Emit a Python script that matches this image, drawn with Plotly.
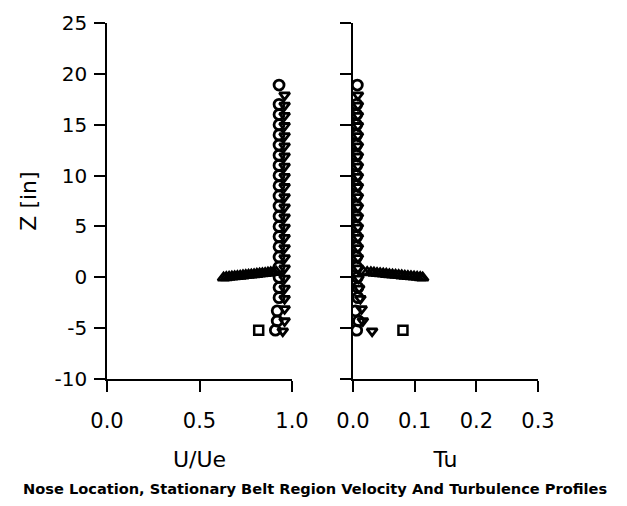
import plotly.graph_objects as go

# ---------------- data ----------------
# open circles (column)
z_circle = [18.9, 17.0, 16.0, 15.0, 14.0, 13.0, 12.0, 11.0, 10.0, 9.0, 8.0, 7.0, 6.0,
            5.0, 4.0, 3.0, 2.0, 1.0, 0.0, -1.0, -2.0, -3.3, -4.3, -5.2]
u_circle = [0.93, 0.93, 0.93, 0.93, 0.93, 0.93, 0.93, 0.93, 0.93, 0.93, 0.93, 0.93, 0.93,
            0.93, 0.93, 0.93, 0.93, 0.93, 0.93, 0.93, 0.93, 0.92, 0.92, 0.91]
tu_circle = [0.007, 0.006, 0.006, 0.006, 0.006, 0.006, 0.006, 0.006, 0.006, 0.006, 0.006, 0.006, 0.006,
             0.006, 0.006, 0.006, 0.006, 0.006, 0.007, 0.008, 0.008, 0.004, 0.009, 0.006]

# open triangles-down (column)
z_tri = [17.9, 16.9, 15.9, 14.9, 13.9, 12.9, 11.9, 10.9, 9.9, 8.9, 7.9, 6.9, 5.9,
         4.9, 3.9, 2.9, 1.9, 0.9, -0.1, -1.1, -2.1, -3.1, -4.3, -5.3]
u_tri = [0.96, 0.96, 0.96, 0.96, 0.96, 0.96, 0.96, 0.96, 0.96, 0.96, 0.96, 0.96, 0.96,
         0.96, 0.96, 0.96, 0.96, 0.96, 0.96, 0.96, 0.96, 0.96, 0.96, 0.95]
tu_tri = [0.008, 0.008, 0.008, 0.008, 0.008, 0.008, 0.008, 0.008, 0.008, 0.008, 0.008, 0.008, 0.008,
          0.008, 0.008, 0.008, 0.008, 0.008, 0.009, 0.010, 0.012, 0.014, 0.016, 0.031]

# open squares
z_square = [-5.2]
u_square = [0.82]
tu_square = [0.081]

# dense near-wall traverse (band at z ~ 0)
z_band = [-0.04, -0.01, 0.02, 0.05, 0.08, 0.10, 0.13, 0.16, 0.19, 0.22, 0.25, 0.28, 0.31,
          0.34, 0.37, 0.40, 0.43, 0.46, 0.49, 0.52]
u_band = [0.63, 0.645, 0.66, 0.675, 0.69, 0.705, 0.72, 0.735, 0.75, 0.765, 0.78, 0.795, 0.81,
          0.825, 0.84, 0.855, 0.87, 0.885, 0.90, 0.915]
tu_band = [0.113, 0.109, 0.104, 0.099, 0.094, 0.089, 0.084, 0.079, 0.074, 0.069, 0.064, 0.059,
           0.054, 0.049, 0.044, 0.039, 0.034, 0.029, 0.023, 0.017]

u_ticks = [0.0, 0.5, 1.0]
tu_ticks = [0.0, 0.1, 0.2, 0.3]
z_ticks = [-10, -5, 0, 5, 10, 15, 20, 25]

caption = "Nose Location, Stationary Belt Region Velocity And Turbulence Profiles"

# ---------------- figure ----------------
fig = go.Figure()

circ = dict(symbol="circle-open", size=10, color="black", line=dict(width=2.8, color="black"))
tri = dict(symbol="triangle-down-open", size=9, color="black", line=dict(width=2.8, color="black"))
sq = dict(symbol="square-open", size=9, color="black", line=dict(width=2.5, color="black"))
band = dict(symbol="triangle-up-open", size=10, color="black", line=dict(width=2.5, color="black"))

for xa, ya, xb, xc, xt, xs in [("x", "y", u_band, u_circle, u_tri, u_square),
                               ("x2", "y2", tu_band, tu_circle, tu_tri, tu_square)]:
    fig.add_trace(go.Scatter(x=xb, y=z_band, mode="markers", marker=band, xaxis=xa, yaxis=ya, showlegend=False))
    fig.add_trace(go.Scatter(x=xt, y=z_tri, mode="markers", marker=tri, xaxis=xa, yaxis=ya, showlegend=False))
    fig.add_trace(go.Scatter(x=xc, y=z_circle, mode="markers", marker=circ, xaxis=xa, yaxis=ya, showlegend=False))
    fig.add_trace(go.Scatter(x=xs, y=z_square, mode="markers", marker=sq, xaxis=xa, yaxis=ya, showlegend=False))

W, H = 627, 506
ydom = [1 - 379 / H, 1 - 23 / H]
xtickfont = dict(family="DejaVu Sans", size=21, color="black")
ytickfont = dict(family="DejaVu Sans", size=20, color="black")
titlefont = dict(family="DejaVu Sans", size=22, color="black")

common_x = dict(showline=True, linecolor="black", linewidth=1.5, ticks="outside", ticklen=11,
                tickwidth=1.5, tickcolor="black", showgrid=False, zeroline=False,
                tickfont=xtickfont, ticklabelstandoff=11)
common_y = dict(range=[-10, 25], tickvals=z_ticks, ticktext=[str(v) for v in z_ticks],
                showline=True, linecolor="black", linewidth=1.5, ticks="outside", ticklen=11,
                tickwidth=1.5, tickcolor="black", showgrid=False, zeroline=False,
                automargin=False, domain=ydom)

fig.update_layout(
    width=W, height=H, margin=dict(l=0, r=0, t=0, b=0),
    plot_bgcolor="white", paper_bgcolor="white",
    xaxis=dict(domain=[107 / W, 292 / W], range=[0, 1.0], tickvals=u_ticks,
               ticktext=[f"{v:.1f}" for v in u_ticks], anchor="y",
               title=dict(text="U/Ue", font=titlefont, standoff=20), automargin=False, **common_x),
    xaxis2=dict(domain=[353 / W, 538 / W], range=[0, 0.3], tickvals=tu_ticks,
                ticktext=[f"{v:.1f}" for v in tu_ticks], anchor="y2",
                title=dict(text="Tu", font=titlefont, standoff=20), automargin=False, **common_x),
    yaxis=dict(anchor="x", tickfont=ytickfont, ticklabelstandoff=3,
               title=dict(text="Z [in]", font=titlefont, standoff=12), **common_y),
    yaxis2=dict(anchor="x2", showticklabels=False, **common_y),
    annotations=[dict(text="<b>" + caption + "</b>", xref="paper", yref="paper",
                      x=315 / W, y=1 - 488 / H, xanchor="center", yanchor="middle",
                      showarrow=False, font=dict(family="DejaVu Sans", size=14.6, color="black"))],
)

fig.write_html("out.html")
